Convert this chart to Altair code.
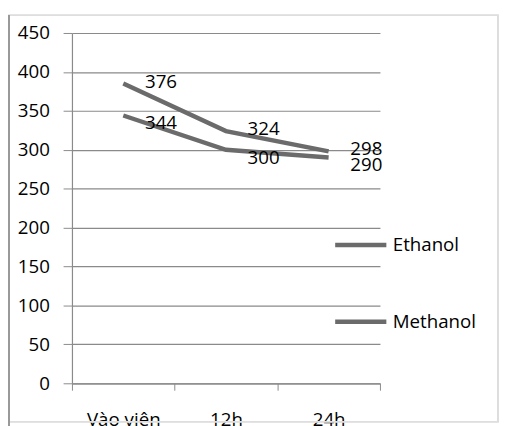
import altair as alt
import pandas as pd

categories = ["Vào viên", "12h", "24h"]
series_names = ["Ethanol", "Methanol"]
ethanol_values = [385, 324, 298]
methanol_values = [344, 300, 290]
ethanol_labels = ["376", "324", "298"]
methanol_labels = ["344", "300", "290"]
y_ticks = [0, 50, 100, 150, 200, 250, 300, 350, 400, 450]

rows = []
for c, v, l in zip(categories, ethanol_values, ethanol_labels):
    rows.append({"time": c, "value": v, "label": l, "series": "Ethanol"})
for c, v, l in zip(categories, methanol_values, methanol_labels):
    rows.append({"time": c, "value": v, "label": l, "series": "Methanol"})
df = pd.DataFrame(rows)

FONT = "Open Sans"
LINE = "#6b6b6b"
AX = "#8a8a8a"

x_enc = alt.X(
    "time:N",
    sort=categories,
    bandPosition=0.5,
    scale=alt.Scale(type="band", paddingInner=0, paddingOuter=0),
    axis=alt.Axis(
        title=None, labelAngle=0, tickBand="extent", domainColor=AX, tickColor=AX,
        tickSize=7, labelPadding=21, labelFontSize=19, labelFont=FONT,
        labelColor="black", grid=False, domainWidth=1.2, labelOverlap=False,
    ),
)
y_enc = alt.Y(
    "value:Q",
    scale=alt.Scale(domain=[0, 450], nice=False),
    axis=alt.Axis(
        values=y_ticks, title=None, grid=True, gridColor=AX, gridWidth=1.2,
        domainColor=AX, tickColor=AX, tickSize=9, labelPadding=14,
        labelFontSize=19, labelFont=FONT, labelColor="black", domainWidth=1.2,
        labelOverlap=False, labelFlush=False,
    ),
)

lines = alt.Chart(df).mark_line(strokeWidth=4.5).encode(
    x=x_enc,
    y=y_enc,
    color=alt.Color(
        "series:N",
        scale=alt.Scale(domain=series_names, range=[LINE, LINE]),
        legend=alt.Legend(
            title=None, orient="none", legendX=265, legendY=187,
            symbolType="stroke", symbolStrokeWidth=4.5, symbolSize=2704,
            labelFontSize=19, labelFont=FONT, labelColor="black",
            rowPadding=39, labelOffset=4,
        ),
    ),
    detail="series:N",
)

eth_text = alt.Chart(df).transform_filter(alt.datum.series == "Ethanol").mark_text(
    align="left", baseline="middle", dx=22, dy=-2, fontSize=19, font=FONT, color="black"
).encode(x=x_enc, y=y_enc, text="label:N")

met_text = alt.Chart(df).transform_filter(alt.datum.series == "Methanol").mark_text(
    align="left", baseline="middle", dx=22, dy=8, fontSize=19, font=FONT, color="black"
).encode(x=x_enc, y=y_enc, text="label:N")

border = alt.Chart(df).mark_rect(filled=False, stroke="#dedede", strokeWidth=1.2).encode(
    x=alt.value(-64), x2=alt.value(433), y=alt.value(-18), y2=alt.value(395)
)
left_edge = alt.Chart(df).mark_rule(stroke="#9a9a9a", strokeWidth=1.5).encode(
    x=alt.value(-64), y=alt.value(-18), y2=alt.value(400)
)

chart = alt.layer(lines, eth_text, met_text, border, left_edge).properties(
    width=313, height=356,
    padding={"left": 65, "top": 22, "right": 122, "bottom": 40},
    autosize=alt.AutoSizeParams(type="none"),
).configure_view(stroke=None)

chart.save("out.html", embed_options={"renderer": "svg", "actions": False})
